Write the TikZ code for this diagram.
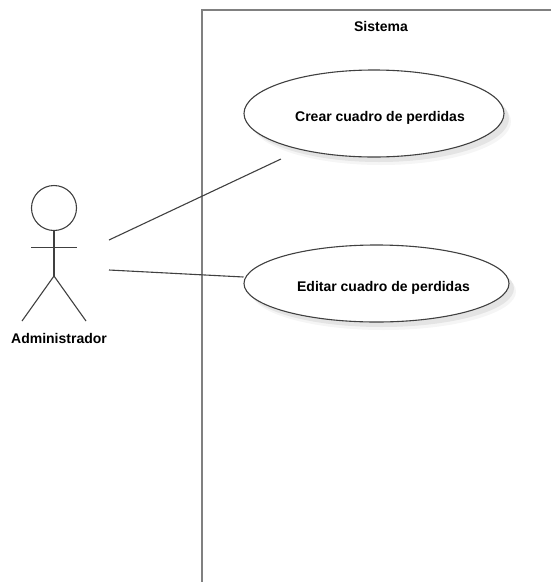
\documentclass[tikz,border=0pt]{standalone}
\usepackage{fontspec}
\setmainfont{Liberation Sans}
\usetikzlibrary{shapes.geometric,shadows}

\definecolor{framegray}{HTML}{808080}
\definecolor{linegray}{HTML}{404040}

\tikzset{
    label text/.style={font=\fontsize{14}{16}\selectfont\bfseries, text=black, inner sep=0pt},
    actor line/.style={draw=linegray, line width=1.1pt},
    use case/.style={ellipse, draw=linegray, line width=1.1pt, fill=white, inner sep=0pt,
        drop shadow={shadow xshift=7pt, shadow yshift=-8pt, fill=black, opacity=0.04},
        drop shadow={shadow xshift=5pt, shadow yshift=-5pt, fill=black, opacity=0.07}},
}

\begin{document}
\begin{tikzpicture}[x=1pt, y=-1pt]

    % Fix the page to the size of the reference
    \useasboundingbox (0, 0) rectangle (551, 582);

    % Define coordinates for the system frame
    \coordinate (frameTop) at (551, 10);
    \coordinate (frameCorner) at (201.5, 10);
    \coordinate (frameBottom) at (201.5, 582);

    % Define coordinates for the actor
    \coordinate (neck) at (54, 231);
    \coordinate (hip) at (54, 276);
    \coordinate (armLeft) at (31, 247.5);
    \coordinate (armRight) at (77, 247.5);
    \coordinate (footLeft) at (22, 321);
    \coordinate (footRight) at (86, 321);

    % Define coordinates for the free ends of the connectors
    \coordinate (actorUpper) at (109, 240);
    \coordinate (actorLower) at (109, 270);
    \coordinate (crearEnd) at (281, 159);
    \coordinate (editarEnd) at (243.5, 277);

    % Draw the system frame, open on the right and at the bottom
    \draw[framegray, line width=2pt] (frameTop) -- (frameCorner) -- (frameBottom);
    \node[label text] (sistema) at (381, 26.5) {Sistema};

    % Draw the connectors first so they stay under the use cases
    \draw[actor line] (actorUpper) -- (crearEnd);
    \draw[actor line] (actorLower) -- (editarEnd);

    % Draw the use cases, the texts sit a little off their centres
    \node[use case, minimum width=260pt, minimum height=87pt] (crear) at (374, 113.5) {};
    \node[label text] (crearText) at (380, 118) {Crear cuadro de perdidas};
    \node[use case, minimum width=265pt, minimum height=77pt] (editar) at (376.5, 283.5) {};
    \node[label text] (editarText) at (383.5, 288) {Editar cuadro de perdidas};

    % Draw the actor
    \node[circle, actor line, minimum size=45pt, inner sep=0pt] (head) at (54, 208) {};
    \draw[actor line] (head.south) -- (neck) -- (hip);
    \draw[actor line] (armLeft) -- (armRight);
    \draw[actor line] (footLeft) -- (hip) -- (footRight);
    \node[label text] (administrador) at (59, 338.5) {Administrador};

\end{tikzpicture}
\end{document}
